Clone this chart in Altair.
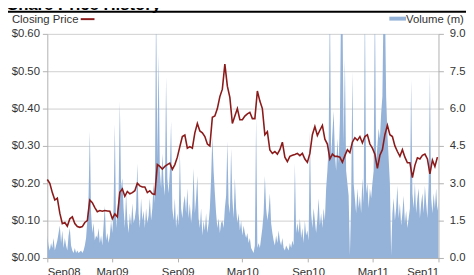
import altair as alt
import pandas as pd

# Weekly closing price (A$), from 1 Sep 2008
price = [
    0.21, 0.20, 0.175, 0.155, 0.16, 0.12, 0.092, 0.095, 0.085, 0.105,
    0.11, 0.092, 0.084, 0.082, 0.084, 0.095, 0.10, 0.155, 0.148, 0.135,
    0.124, 0.127, 0.125, 0.127, 0.126, 0.125, 0.105, 0.118, 0.11, 0.176,
    0.185, 0.165, 0.178, 0.172, 0.175, 0.18, 0.20, 0.193, 0.19, 0.19,
    0.175, 0.18, 0.172, 0.17, 0.25, 0.245, 0.238, 0.245, 0.25, 0.254,
    0.237, 0.25, 0.27, 0.298, 0.325, 0.329, 0.294, 0.298, 0.294, 0.335,
    0.36, 0.34, 0.335, 0.325, 0.305, 0.30, 0.377, 0.38, 0.40, 0.432,
    0.452, 0.519, 0.46, 0.43, 0.36, 0.38, 0.40, 0.37, 0.37, 0.38,
    0.386, 0.39, 0.373, 0.373, 0.447, 0.42, 0.40, 0.33, 0.338, 0.289,
    0.28, 0.285, 0.278, 0.29, 0.31, 0.27, 0.258, 0.272, 0.275, 0.277,
    0.28, 0.274, 0.28, 0.265, 0.256, 0.28, 0.33, 0.352, 0.328, 0.342,
    0.355, 0.318, 0.305, 0.265, 0.278, 0.272, 0.272, 0.27, 0.256, 0.274,
    0.29, 0.282, 0.31, 0.322, 0.315, 0.325, 0.308, 0.325, 0.33, 0.305,
    0.294, 0.278, 0.24, 0.275, 0.29, 0.33, 0.355, 0.33, 0.325, 0.30,
    0.285, 0.272, 0.29, 0.27, 0.255, 0.255, 0.215, 0.248, 0.268, 0.265,
    0.275, 0.278, 0.265, 0.225, 0.262, 0.245, 0.27,
]

# Volume (millions), every half week from 1 Sep 2008
volume = [
    0.9, 0.5, 0.3, 0.6, 0.4, 0.8, 0.3, 0.5, 0.7, 1.0,
    1.3, 0.6, 1.1, 0.4, 0.8, 0.5, 0.3, 0.9, 1.2, 0.5,
    0.3, 0.2, 0.4, 0.2, 0.3, 0.2, 0.25, 0.3, 0.2, 0.3,
    0.5, 0.8, 1.5, 2.5, 5.1, 1.8, 1.0, 1.4, 0.7, 0.9,
    0.8, 1.2, 0.6, 0.9, 0.5, 1.3, 2.1, 0.7, 1.0, 0.6,
    0.9, 1.5, 1.0, 2.0, 5.4, 1.2, 1.8, 2.5, 6.3, 2.8,
    3.2, 2.0, 1.2, 2.6, 1.5, 1.0, 1.8, 1.3, 2.2, 1.4,
    1.6, 2.0, 3.8, 1.8, 1.2, 2.4, 1.5, 1.9, 1.2, 2.0,
    1.4, 1.7, 2.4, 1.5, 2.0, 3.0, 2.2, 10.5, 4.0, 8.2,
    3.5, 2.8, 4.2, 3.0, 2.5, 7.3, 3.2, 2.6, 3.5, 5.5,
    2.0, 1.5, 2.4, 1.2, 1.8, 1.3, 4.3, 2.0, 1.6, 2.2,
    2.5, 1.8, 2.8, 1.6, 2.2, 1.4, 2.0, 3.6, 1.8, 2.4,
    3.3, 1.6, 1.2, 2.0, 0.9, 1.5, 1.1, 1.8, 1.0, 1.4,
    2.0, 3.2, 4.9, 3.5, 2.6, 1.8, 1.2, 1.6, 1.0, 1.4,
    1.5, 1.2, 2.0, 2.5, 4.7, 2.2, 1.8, 4.4, 2.4, 1.6,
    3.2, 2.0, 1.4, 1.8, 1.1, 1.5, 0.9, 1.3, 1.0, 0.8,
    1.0, 0.6, 0.8, 0.4, 0.3, 0.2, 0.5, 5.7, 0.4, 0.6,
    0.4, 0.8, 1.2, 1.8, 3.3, 2.0, 1.5, 1.9, 2.6, 1.4,
    1.0, 0.7, 0.5, 0.9, 0.6, 1.1, 0.7, 0.5, 0.8, 0.4,
    0.3, 0.5, 0.4, 0.3, 0.6, 0.4, 0.7, 0.5, 3.8, 1.0,
    1.4, 1.0, 1.6, 0.8, 1.2, 0.6, 1.5, 0.9, 1.1, 0.7,
    5.1, 1.8, 1.2, 2.0, 1.5, 1.0, 1.6, 2.4, 1.3, 1.8,
    1.2, 2.0, 1.5, 2.8, 3.5, 4.5, 10.5, 4.0, 5.0, 5.9,
    4.2, 3.5, 4.8, 3.8, 5.5, 10.5, 10.5, 4.6, 8.0, 3.5,
    3.0, 2.5, 0.1, 2.2, 7.5, 3.0, 2.4, 1.8, 2.8, 2.0,
    2.5, 1.8, 3.2, 2.2, 10.5, 2.6, 3.0, 2.0, 2.8, 2.4,
    3.0, 3.5, 10.5, 3.8, 4.5, 5.2, 4.8, 5.8, 6.5, 10.5,
    10.5, 6.5, 5.0, 4.0, 3.0, 0.1, 1.8, 2.4, 1.5, 2.0,
    2.9, 1.6, 2.2, 1.3, 1.8, 2.5, 1.4, 1.9, 1.2, 1.6,
    2.0, 7.2, 2.6, 2.0, 3.0, 1.8, 2.4, 2.8, 1.6, 2.2,
    2.6, 1.8, 2.9, 2.2, 1.6, 3.0, 7.5, 2.4, 1.8, 2.6,
    2.0, 2.8, 1.9, 2.3,
]

price_ticks = [0.0, 0.1, 0.2, 0.3, 0.4, 0.5, 0.6]
volume_ticks = [0.0, 1.5, 3.0, 4.5, 6.0, 7.5, 9.0]
month_ticks = [(2008, 9), (2009, 3), (2009, 9), (2010, 3), (2010, 9), (2011, 3), (2011, 9)]

price_df = pd.DataFrame({
    "date": pd.date_range("2008-09-01", periods=len(price), freq="7D"),
    "price": price,
})
vol_df = pd.DataFrame({
    "date": pd.date_range("2008-09-01", periods=len(volume), freq="84h"),
    "volume": volume,
})

FONT = "Liberation Sans"
TXT = "#333333"
AXC = "#b0b0b0"

x_enc = alt.X(
    "date:T",
    scale=alt.Scale(domain=[alt.DateTime(year=2008, month=9, date=1),
                            alt.DateTime(year=2011, month=9, date=1)], nice=False),
    axis=alt.Axis(
        values=[alt.DateTime(year=y, month=m, date=1) for y, m in month_ticks],
        format="%b%y", title=None, grid=False, tickSize=4, labelPadding=5,
        domainColor=AXC, tickColor=AXC, labelColor=TXT, labelFontSize=11.5,
        labelFont=FONT,
    ),
)

vol = alt.Chart(vol_df).mark_area(color="#95b3d8", clip=True).encode(
    x=x_enc,
    y=alt.Y(
        "volume:Q",
        scale=alt.Scale(domain=[0, 9], nice=False),
        axis=alt.Axis(orient="right", values=volume_ticks, format=".1f", title=None,
                      grid=False, tickSize=5, labelPadding=6, domainColor=AXC,
                      tickColor=AXC, labelColor=TXT, labelFontSize=11.5, labelFont=FONT),
    ),
)

line = alt.Chart(price_df).mark_line(color="#8b1a1a", strokeWidth=1.6).encode(
    x=x_enc,
    y=alt.Y(
        "price:Q",
        scale=alt.Scale(domain=[0, 0.6], nice=False),
        axis=alt.Axis(orient="left", values=price_ticks, format="$.2f", title=None,
                      grid=True, gridColor="#cfcfcf", tickSize=5, labelPadding=3,
                      domainColor=AXC, tickColor=AXC, labelColor=TXT, labelFontSize=11.5,
                      labelFont=FONT),
    ),
)

one = pd.DataFrame({"k": [0]})

title = alt.Chart(pd.DataFrame({"t": ["Share Price History"]})).mark_text(
    align="left", baseline="alphabetic", font=FONT, fontSize=17, fontWeight="bold",
    color="black",
).encode(x=alt.value(-41), y=alt.value(-24.3), text="t:N")

topline = alt.Chart(one).mark_rule(color="black", strokeWidth=2).encode(
    x=alt.value(-48), x2=alt.value(430), y=alt.value(-22.5)
)
frame = alt.Chart(one).mark_rule(color="#c8c8c8", strokeWidth=1).encode(
    x=alt.value(-40.5), y=alt.value(-21.5), y2=alt.value(260)
)

leg_price_txt = alt.Chart(pd.DataFrame({"t": ["Closing Price"]})).mark_text(
    align="left", baseline="alphabetic", font=FONT, fontSize=11.5, color=TXT
).encode(x=alt.value(-36), y=alt.value(-11), text="t:N")
leg_price_line = alt.Chart(one).mark_rule(color="#8b1a1a", strokeWidth=2).encode(
    x=alt.value(34), x2=alt.value(48), y=alt.value(-15)
)
leg_vol_sw = alt.Chart(one).mark_rule(color="#95b3d8", strokeWidth=4).encode(
    x=alt.value(348), x2=alt.value(365), y=alt.value(-15.5)
)
leg_vol_txt = alt.Chart(pd.DataFrame({"t": ["Volume (m)"]})).mark_text(
    align="left", baseline="alphabetic", font=FONT, fontSize=11.5, color=TXT
).encode(x=alt.value(365), y=alt.value(-11), text="t:N")

chart = (
    alt.layer(vol, line, title, topline, frame, leg_price_txt, leg_price_line,
              leg_vol_sw, leg_vol_txt)
    .resolve_scale(y="independent")
    .properties(
        width=398, height=228,
        autosize=alt.AutoSizeParams(type="none"),
        padding={"left": 40, "top": 24, "right": 28, "bottom": 15},
    )
    .configure_view(stroke=None)
)

chart.save("out.html", embed_options={"renderer": "svg", "actions": False})
